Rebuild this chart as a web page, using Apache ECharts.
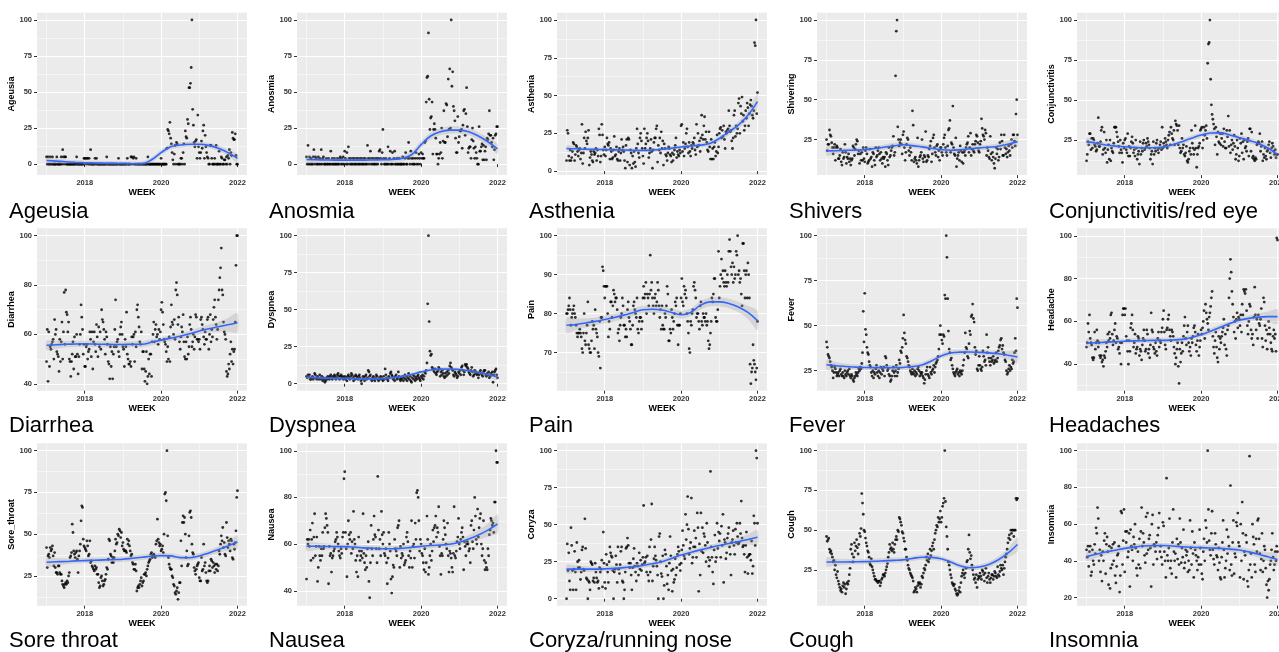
<!DOCTYPE html>
<html><head><meta charset="utf-8">
<script src="https://cdn.jsdelivr.net/npm/echarts@6/dist/echarts.min.js"></script>
<style>html,body{margin:0;padding:0;background:#fff}#c{width:1279px;height:652px}</style>
</head><body><div id="c"></div><script>
// ---------- DATA (weekly values 2017-01 .. 2022-01) ----------
const ageusia=[5,0,5,0,0,5,0,0,5,0,0,0,0,0,5,0,0,0,0,0,5,0,10,5,0,5,
5,0,0,0,0,0,0,0,0,0,0,0,0,0,0,5,0,0,0,0,0,0,0,0,0,4,
4,4,0,4,4,0,4,0,10,0,0,0,0,0,4,0,4,0,0,0,0,0,0,0,0,0,
0,0,0,0,5,0,0,0,0,0,0,0,0,0,0,0,0,0,0,0,4,0,0,0,0,0,
0,0,0,0,0,0,4,0,0,0,0,5,5,0,4,5,0,0,4,0,0,0,0,0,0,0,
0,0,0,0,0,0,0,0,5,0,0,0,0,0,0,0,0,0,0,0,0,0,0,0,0,0,
4,0,0,0,0,0,0,0,11,24,23,21,29,18,14,8,3,0,7,13,0,15,14,0,0,0,
0,4,4,0,8,14,0,23,19,18,31,28,53,53,56,67,100,38,27,15,12,16,17,4,34,12,
8,4,8,16,11,23,27,4,20,12,8,5,4,0,0,13,13,4,0,0,0,4,0,13,0,0,
0,9,0,0,5,4,0,0,3,3,0,5,0,6,4,10,0,8,6,22,18,17,17,21,6,0,0];
const anosmia=[5,0,13,0,5,0,4,0,0,5,10,0,5,4,0,0,5,0,4,0,10,0,4,5,0,0,
0,4,0,0,4,0,0,9,0,4,0,0,4,0,0,0,4,0,0,4,5,0,4,0,5,0,
9,4,0,8,0,12,4,0,4,0,0,4,0,4,0,0,4,0,4,0,0,4,0,4,0,0,
4,0,4,0,0,13,4,0,4,9,0,4,0,4,0,0,4,0,4,0,4,9,10,4,0,8,
24,4,0,0,4,0,0,12,0,4,9,0,0,8,0,4,9,0,0,4,0,0,4,0,0,0,
0,5,0,0,4,8,0,0,4,15,4,0,9,4,0,4,0,0,4,8,0,4,0,7,4,0,
8,4,7,4,4,15,16,43,60,61,91,45,24,32,33,43,7,24,28,24,18,7,7,0,4,7,
15,8,25,4,16,37,15,15,42,41,19,59,24,66,25,100,54,64,40,37,30,18,8,8,33,15,
19,23,23,24,11,27,37,38,20,35,53,26,8,11,12,12,4,17,25,16,11,4,12,8,4,0,
0,26,9,9,12,14,3,13,3,9,12,3,18,17,21,37,20,20,15,12,18,3,10,20,21,26,26];
const asthenia=[7,27,25,10,7,14,7,9,13,19,18,7,11,17,16,13,10,14,15,8,12,31,5,12,22,15,
26,20,18,22,27,4,9,13,11,7,6,13,11,12,15,7,14,10,28,24,6,10,31,24,14,11,
16,10,14,22,18,17,19,8,15,13,8,9,14,23,10,11,16,8,7,13,15,7,12,21,14,16,
13,7,2,17,21,6,22,21,4,14,12,2,10,5,13,6,3,15,28,18,12,9,22,25,20,15,
10,5,28,15,18,22,25,20,9,12,15,21,13,2,14,19,22,22,28,30,6,17,14,22,12,26,
15,20,4,18,15,11,10,7,12,16,15,11,10,6,12,7,11,14,17,22,9,13,11,10,14,12,
30,31,13,19,10,15,18,25,28,16,12,19,13,10,17,15,19,18,22,14,11,31,16,25,17,20,
13,22,37,24,21,30,36,21,26,19,14,13,26,16,8,21,8,15,8,16,19,10,13,24,12,16,
25,28,29,22,27,23,30,21,15,26,25,27,28,40,30,26,27,20,15,22,37,40,23,30,25,28,
45,48,25,43,38,49,33,37,27,30,40,35,45,42,30,38,44,47,43,37,35,40,85,83,100,38,52];
const shivering=[25,18,22,22,31,28,27,23,20,16,20,22,12,20,21,20,13,13,15,19,11,9,17,13,14,22,
17,10,14,13,16,11,13,9,12,13,21,20,15,19,22,25,24,16,18,10,16,12,17,12,20,13,
11,18,20,16,10,11,12,19,13,14,8,17,16,12,9,20,14,15,18,20,16,12,17,13,10,14,
13,14,8,17,16,12,9,20,14,15,18,20,21,27,15,17,65,93,100,33,25,21,23,25,22,16,
28,30,20,12,17,22,26,25,18,15,20,17,12,43,34,11,13,14,12,10,26,8,12,14,15,17,
25,13,11,15,14,30,11,12,15,14,19,21,24,11,16,26,28,20,17,15,21,22,14,18,12,20,
20,17,15,22,26,28,20,17,15,21,31,32,37,17,23,22,46,20,16,15,26,8,13,15,17,12,
21,18,11,17,10,17,18,15,20,22,23,27,17,20,29,15,19,22,18,17,22,24,28,27,23,18,
17,22,24,38,32,28,27,25,31,29,15,20,18,14,13,27,16,12,17,14,10,7,13,20,16,19,
12,14,23,19,28,24,15,15,28,20,16,19,14,17,21,18,15,22,25,20,28,28,24,21,41,50,28];
const conjunctivitis=[12,16,24,22,29,29,19,26,20,26,25,22,21,18,19,23,39,21,21,24,31,33,16,19,30,20,
17,25,11,19,22,13,25,12,20,18,17,23,33,33,33,30,27,24,21,17,25,19,17,11,23,20,
25,26,19,17,29,15,21,15,20,24,27,23,17,19,15,25,20,13,16,18,10,24,16,20,18,23,
25,19,20,23,21,26,24,22,20,13,16,18,10,24,16,20,18,23,25,19,17,20,22,24,19,33,
20,23,21,26,24,22,20,25,28,30,22,33,29,26,25,31,22,37,35,34,31,22,34,20,17,18,
26,20,22,16,15,17,21,12,11,13,18,20,16,31,23,20,16,19,34,20,8,16,20,21,23,31,
32,33,20,25,33,28,31,34,26,73,85,86,100,63,47,41,38,35,32,22,33,27,16,30,24,23,
29,22,26,29,21,32,24,20,20,31,27,40,21,31,17,22,25,19,23,28,21,13,16,25,20,12,
15,26,23,29,17,24,13,25,20,21,18,24,26,15,32,32,18,30,14,15,13,12,14,13,22,23,
24,23,29,18,21,24,12,16,14,20,15,13,18,19,22,24,17,14,20,23,21,18,16,19,14,16,16];
const diarrhea=[49,62,41,61,47,55,54,56,57,58,50,66,60,62,53,52,51,45,58,49,57,65,50,61,77,56,
78,69,68,61,65,50,49,43,49,52,57,46,59,51,51,60,52,44,51,56,60,72,67,62,52,56,
47,47,55,56,50,53,54,61,58,51,61,46,57,61,56,53,64,59,51,63,55,61,54,70,66,65,
62,58,52,61,59,56,49,48,42,55,47,53,42,52,55,62,74,55,57,58,53,51,60,63,65,60,
55,54,47,58,55,69,52,50,48,48,49,47,59,56,59,60,49,61,55,70,72,67,63,57,56,61,
46,53,53,46,41,45,53,40,43,50,44,52,52,43,57,60,65,57,62,64,59,60,56,62,58,61,
70,73,69,64,58,57,56,53,49,55,50,59,49,63,72,65,64,60,66,58,78,81,76,64,67,57,
54,59,63,61,68,57,51,50,57,50,59,52,55,64,67,62,55,57,60,54,59,68,67,58,58,57,
58,54,66,67,64,62,59,56,61,58,58,66,67,54,60,68,57,62,59,66,71,74,67,64,58,62,
74,78,83,87,95,78,76,65,61,60,58,45,43,44,48,46,52,57,49,54,48,53,54,65,88,100,100];
const dyspnea=[5,4,6,5,6,3,3,4,5,3,4,7,6,4,3,5,4,3,6,4,3,5,2,4,3,1,
2,4,3,5,4,3,5,6,4,3,5,4,6,5,3,4,6,7,5,3,5,6,4,5,3,4,
5,3,4,2,5,6,4,3,5,7,6,4,2,5,3,6,5,4,3,5,6,4,2,0,3,5,
4,2,5,6,3,4,9,8,5,6,3,2,4,5,3,2,4,6,5,3,2,4,3,5,4,3,
2,5,3,10,6,4,3,2,5,4,7,8,6,5,3,4,2,5,6,3,4,8,5,3,2,4,
3,5,2,4,6,3,5,2,4,7,3,5,2,1,4,6,3,5,2,4,3,5,6,4,3,2,
5,4,6,3,5,8,7,9,14,54,100,42,22,19,20,11,10,9,8,10,7,6,8,9,11,10,
5,8,6,9,7,5,4,7,5,8,6,9,7,12,14,11,10,9,6,5,8,7,6,4,5,8,
7,9,6,11,12,9,6,8,13,12,13,11,10,8,7,6,9,11,8,5,6,9,7,8,6,7,
4,6,8,9,7,6,5,8,9,9,6,5,7,6,8,4,5,7,6,8,1,6,8,9,10,6,4];
const pain=[80,80,81,82,84,81,77,79,80,81,82,80,79,77,75,74,75,75,76,75,74,71,70,75,80,73,
72,75,77,83,72,71,70,70,73,78,76,77,71,81,76,75,74,70,69,78,66,79,79,92,91,87,
84,87,87,87,80,74,78,76,83,83,79,82,86,85,83,84,84,81,75,76,73,77,79,80,84,82,
77,77,74,76,74,81,83,79,78,76,72,72,77,82,83,81,80,79,84,76,75,78,79,79,76,78,
84,87,84,85,88,80,85,84,82,85,95,86,88,84,82,80,84,85,82,83,88,86,82,79,81,76,
82,77,76,76,80,79,82,87,85,73,73,76,75,81,79,76,78,80,83,82,84,77,72,77,77,80,
84,89,83,82,87,85,86,84,80,78,75,71,70,78,77,80,81,87,88,86,84,79,80,80,78,76,
82,83,78,77,80,79,79,78,80,77,78,73,71,72,75,78,84,83,85,89,89,79,78,78,81,96,
84,87,90,94,89,91,88,87,91,88,87,90,88,96,99,96,92,90,93,88,92,89,90,96,95,100,
90,91,88,89,85,82,98,98,91,84,90,91,84,93,90,84,67,62,65,66,72,68,67,65,63,66,78];
const fever=[41,38,34,33,32,30,28,27,25,21,24,27,26,24,22,23,24,22,25,26,23,22,24,22,21,25,
23,22,24,25,23,26,22,21,23,22,20,19,21,22,24,23,22,24,26,25,27,26,29,35,58,41,
68,48,45,38,35,34,30,28,27,24,22,25,21,24,23,26,28,24,22,25,21,24,27,23,26,25,
27,22,33,32,28,25,26,23,22,19,20,22,25,27,24,22,25,28,22,24,26,31,29,36,35,38,
43,56,46,42,40,33,32,30,28,27,25,24,23,26,24,23,25,22,24,23,26,27,25,22,24,23,
24,22,21,18,20,23,25,27,23,22,21,27,24,23,25,26,28,24,27,29,30,31,33,37,45,50,
45,42,40,45,44,67,65,100,88,65,47,37,35,31,32,28,26,24,23,22,24,25,26,23,24,22,
25,24,23,25,28,31,35,46,38,37,33,32,40,47,45,55,56,62,54,52,38,34,36,26,25,28,
33,28,26,25,27,36,33,30,31,28,45,35,38,32,30,28,32,30,31,33,29,30,31,35,30,32,
36,38,39,42,43,37,39,35,34,31,30,25,23,24,26,28,25,27,26,31,29,30,35,43,36,65,60];
const headache=[48,50,59,55,63,52,50,49,43,42,43,55,47,50,56,51,48,50,44,43,44,41,42,39,44,43,
46,50,48,54,51,55,52,63,64,54,49,51,56,59,50,53,52,47,48,45,50,40,50,63,66,66,
63,66,53,51,46,40,51,46,57,59,63,56,48,50,54,45,47,48,53,52,44,47,46,42,49,52,
56,51,46,47,56,54,45,47,43,49,64,56,55,48,47,45,50,46,44,52,55,48,51,50,55,57,
61,65,55,49,47,56,57,61,63,56,53,51,56,55,53,48,45,40,43,47,50,39,31,47,41,45,
50,46,53,58,62,52,49,55,58,50,46,48,44,52,50,53,57,58,55,49,46,51,54,44,48,51,
56,54,57,60,65,52,68,64,61,59,56,62,64,67,71,74,53,48,45,51,55,48,43,41,53,47,
52,50,53,55,57,61,49,54,47,44,56,58,71,80,89,83,74,68,62,55,60,52,61,64,57,62,
61,58,63,55,68,63,75,74,73,75,65,58,54,60,68,67,56,52,54,49,62,76,63,56,61,52,
63,59,58,61,66,52,48,71,69,58,51,56,47,54,60,57,54,50,47,46,53,56,52,54,46,99,98];
const soreThroat=[42,30,37,38,36,42,40,41,43,37,31,39,30,27,27,26,31,31,27,26,26,22,20,19,18,20,
21,20,22,21,25,27,36,37,39,56,51,40,38,36,39,40,35,27,37,40,44,58,67,66,47,43,
42,41,40,46,43,37,38,46,33,34,31,30,29,28,31,29,30,26,26,21,18,19,24,25,22,19,
20,22,23,26,30,29,35,47,46,38,37,33,36,33,36,40,47,44,45,50,49,53,52,48,51,43,
45,41,40,40,40,39,47,44,46,43,40,37,38,33,32,29,29,32,28,16,18,19,18,20,22,24,
19,21,22,26,26,27,25,29,31,33,34,35,38,39,36,37,38,37,36,44,46,59,47,45,43,44,
40,41,43,39,50,74,75,70,100,49,36,32,30,29,29,25,24,20,19,15,14,16,18,11,15,21,
21,46,31,57,61,57,60,50,36,40,31,32,49,63,64,60,44,39,38,30,28,26,29,31,32,33,
24,22,22,36,28,29,44,31,33,27,22,21,22,28,31,28,35,34,30,33,31,27,32,29,32,28,
31,40,38,44,49,46,54,42,45,38,37,57,48,42,46,44,40,47,46,36,35,44,41,45,52,72,76];
const nausea=[45,62,60,62,59,66,53,62,69,54,63,73,55,59,63,44,50,59,55,53,58,55,65,58,59,67,
73,71,68,65,43,59,55,56,48,54,55,57,58,61,62,65,63,60,57,55,54,58,56,63,65,88,
91,65,58,46,60,70,64,62,65,56,61,58,74,62,60,53,48,55,46,63,57,53,55,57,54,73,
56,52,49,55,50,58,61,44,37,52,68,58,55,62,72,64,63,58,52,89,66,58,62,55,74,64,
60,65,56,55,58,52,43,54,65,60,57,45,39,46,51,50,62,58,57,55,67,68,70,50,59,54,
56,55,60,51,52,53,63,65,61,55,50,57,54,70,50,59,60,54,69,62,82,83,80,70,57,62,
60,56,55,52,49,58,48,52,72,62,47,50,55,60,53,57,66,61,67,68,72,63,67,65,76,59,
55,47,56,55,62,70,67,64,60,58,69,55,48,57,56,54,50,48,56,76,55,54,57,61,63,71,
60,58,62,65,67,63,49,61,59,55,60,61,60,57,58,52,68,70,61,58,66,80,72,62,60,75,
63,67,71,73,60,55,58,70,53,49,52,50,49,58,55,64,66,71,70,68,69,65,78,78,100,95,95];
const coryza=[0,37,19,31,12,6,48,36,19,6,20,32,18,6,38,25,21,26,21,13,18,33,35,20,19,54,
34,14,13,0,12,11,6,25,24,23,12,14,11,24,18,14,11,12,7,21,18,20,26,8,45,24,
11,7,30,23,18,11,25,35,31,29,28,19,0,18,20,29,23,11,35,20,17,23,32,35,12,11,
0,6,18,34,35,41,36,24,21,24,16,6,21,27,34,22,18,12,24,22,16,31,20,26,19,23,
28,63,24,25,28,18,29,16,12,35,18,40,64,12,22,27,35,29,26,22,16,0,42,44,25,17,
15,29,0,9,33,30,22,10,16,6,24,42,29,19,5,20,11,13,27,16,21,30,35,32,23,19,
24,33,46,36,29,27,57,40,50,69,47,30,34,38,68,24,28,35,46,35,41,28,58,48,5,37,
16,58,32,48,31,44,42,36,25,51,38,28,22,26,86,35,28,18,10,33,43,25,28,51,34,45,
39,44,28,49,36,57,11,40,38,27,31,41,44,48,35,30,16,38,40,46,36,30,47,38,51,42,
37,38,51,44,66,41,35,36,30,18,36,45,28,17,29,30,30,26,39,17,22,56,51,36,100,95,51];
const cough=[46,43,44,45,38,36,37,35,33,30,31,25,28,22,20,24,18,16,14,12,13,11,15,17,14,16,
10,13,17,16,18,22,26,38,41,35,30,33,42,37,40,44,39,35,41,48,46,51,73,67,60,50,
49,45,42,40,37,36,33,29,28,32,27,25,23,21,19,19,18,18,17,18,18,15,17,19,20,22,
22,21,23,25,27,29,33,36,41,38,39,37,42,38,36,41,44,46,44,50,49,58,57,55,53,49,
48,45,43,38,38,33,31,28,26,25,23,22,21,20,18,11,12,14,13,11,15,17,16,17,14,16,
21,20,23,26,25,28,33,31,35,30,32,38,34,37,40,42,38,44,48,50,53,52,58,55,57,62,
55,58,65,67,70,100,68,52,46,38,30,28,25,22,20,17,16,15,16,13,12,10,9,10,12,14,
11,17,21,23,25,22,20,23,26,30,31,38,47,36,32,34,28,25,22,19,20,17,22,14,19,21,
20,23,21,19,25,24,22,18,23,26,20,17,21,23,19,17,20,22,22,19,21,24,23,21,20,27,
22,21,24,28,26,25,28,22,26,30,33,35,38,42,45,47,44,50,48,50,50,46,50,50,70,69,70];
const insomnia=[46,42,48,37,45,48,32,34,46,40,38,49,44,58,55,69,63,40,46,34,43,29,45,40,51,55,
33,49,53,45,27,48,25,36,47,38,49,40,50,32,28,37,43,44,48,23,32,67,66,38,51,68,
34,56,50,56,42,45,55,26,57,48,46,40,53,49,60,47,36,32,45,38,52,36,56,69,48,55,
50,43,39,64,44,66,46,52,54,47,26,60,65,38,49,48,45,50,41,54,58,66,45,48,42,38,
61,59,45,40,31,85,43,40,47,63,36,40,33,50,68,45,40,44,31,52,41,49,38,63,50,39,
47,42,57,36,39,46,43,45,34,40,35,62,47,38,56,44,31,50,46,43,40,35,42,38,57,47,
38,33,30,45,52,40,62,58,50,100,68,51,46,43,55,67,46,41,38,55,49,43,42,35,47,39,
31,30,42,50,62,46,31,36,40,57,44,53,48,35,81,38,32,50,62,33,44,42,61,59,66,50,
48,31,60,40,72,55,30,45,43,54,50,29,26,35,97,38,44,31,60,53,49,38,34,52,45,62,
63,52,44,35,41,55,34,40,48,46,36,27,20,29,24,30,38,40,46,55,42,35,38,45,40,48,45];

// ---------- smoothed fits (loess) at quarter-year steps, with CI half-widths ----------
const fitX=[2017,2017.25,2017.5,2017.75,2018,2018.25,2018.5,2018.75,2019,2019.25,2019.5,2019.75,2020,2020.25,2020.5,2020.75,2021,2021.25,2021.5,2021.75,2022];
const ageusiaFit=[2.5,2.1,1.7,1.3,1.0,0.8,0.6,0.5,0.4,0.3,0.3,3,8,12,13.3,13.8,13.8,13,11,8,4];
const ageusiaSe=[2.5,2,1.6,1.5,1.5,1.5,1.5,1.5,1.5,1.5,1.6,1.8,1.8,1.8,1.8,1.8,1.8,1.8,1.9,2.2,3];
const anosmiaFit=[3.2,3.0,2.9,2.8,2.8,2.8,2.8,2.9,3.0,3.3,4.0,6.5,13.5,19.5,22.5,23.6,23.6,22.5,19.5,15.5,10.5];
const anosmiaSe=[2.5,2,1.8,1.8,1.8,1.8,1.8,1.8,1.8,1.8,2,2.5,2.5,2.5,2.5,2.5,2.5,2.5,2.5,2.8,3.5];
const astheniaFit=[15,14.8,14.5,14.4,14.3,14.1,14,13.8,13.7,14,14.5,15.2,16,16.6,17.2,18.3,21.6,26,30.5,37,46];
const astheniaSe=[2,1.5,1.2,1.2,1.2,1.2,1.2,1.2,1.2,1.2,1.2,1.2,1.2,1.3,1.4,1.6,2,2.2,2.4,3,5];
const shiveringFit=[17.9,18,18.2,18.4,18.7,19.4,20.2,21,21.7,21.2,20.4,19.5,18.7,18.3,18.6,19.2,19.8,20.2,20.8,22,23.7];
const shiveringSe=[3,2,1.6,1.5,1.5,1.5,1.6,1.8,1.8,1.7,1.6,1.6,1.6,1.6,1.6,1.6,1.6,1.6,1.8,2.2,3.5];
const conjunctivitisFit=[24,23,21.9,21.2,20.8,20.4,20.2,20.2,20.6,22,24,26.2,28.1,29.4,29.5,28.2,26.5,24.8,22.9,20,16];
const conjunctivitisSe=[2.5,2,1.6,1.5,1.5,1.5,1.5,1.5,1.5,1.5,1.6,1.6,1.6,1.6,1.6,1.6,1.6,1.6,1.8,2.2,3.5];
const diarrheaFit=[55.6,55.8,56,56.1,56.2,56.1,56,55.9,55.9,56,56,56.8,57.7,58.5,59.3,60.3,61.4,62.3,63.1,63.9,64.7];
const diarrheaSe=[2,1.6,1.3,1.2,1.2,1.2,1.2,1.2,1.2,1.2,1.2,1.2,1.2,1.2,1.2,1.3,1.4,1.6,2,2.8,4];
const dyspneaFit=[4.5,4.1,3.8,3.6,3.5,3.4,3.3,3.3,3.5,4.1,5,6.3,8,9.3,9.9,10,9.6,8.8,7.6,6.2,4.5];
const dyspneaSe=[1.5,1.2,1,1,1,1,1,1,1,1,1,1,1.1,1.1,1.1,1.1,1.1,1.1,1.2,1.4,2];
const painFit=[77,77.2,77.6,78,78.5,79,79.6,80.3,81,81.1,80.9,80.3,79.7,80.3,82.1,83,83,82.6,81.7,80.3,78.2];
const painSe=[2,1.5,1.2,1,1,1,1,1,1,1,1,1,1,1,1.1,1.1,1.2,1.2,1.3,1.7,2.5];
const feverFit=[28.3,27.8,27.3,27,26.8,26.7,26.7,26.7,26.8,27.3,28.2,30.4,33.2,34.8,35.3,35.4,35.2,34.9,34.4,33.6,32.6];
const feverSe=[3,2,1.6,1.5,1.5,1.5,1.5,1.5,1.5,1.5,1.5,1.5,1.5,1.5,1.5,1.5,1.5,1.5,1.6,2.2,3.5];
const headacheFit=[49.8,50,50.3,50.5,50.7,50.9,51,51.1,51.1,51.3,51.6,52.5,53.8,55.4,57.2,59,60.5,61.4,62,62.2,62.2];
const headacheSe=[2,1.6,1.3,1.2,1.2,1.2,1.2,1.2,1.2,1.2,1.2,1.2,1.2,1.3,1.3,1.3,1.3,1.4,1.6,2.4,3.5];
const soreThroatFit=[33.2,33.5,33.7,34,34.2,34.4,34.6,34.8,35,35.6,36.2,36.8,37.2,37,36,35.9,37,38.8,40.8,43,45.3];
const soreThroatSe=[3,2.2,1.8,1.6,1.6,1.6,1.6,1.6,1.6,1.6,1.6,1.6,1.6,1.6,1.6,1.6,1.7,1.8,2,2.8,4];
const nauseaFit=[59.1,59.1,59,58.9,58.9,58.7,58.4,58.2,58,58,58.2,58.6,59,59.4,59.6,59.9,60.8,62.2,63.9,66,68.6];
const nauseaSe=[2,1.6,1.3,1.2,1.2,1.2,1.2,1.2,1.2,1.2,1.2,1.2,1.2,1.2,1.2,1.3,1.4,1.6,2,2.8,4];
const coryzaFit=[20,20,20,20,20.2,20.5,21,21.7,22.5,23.6,25,27.2,29.5,31.3,33,34.5,36,37.3,38.6,40,41.5];
const coryzaSe=[3,2.4,2,1.8,1.8,1.8,1.8,1.8,1.8,1.8,1.8,1.8,1.8,1.8,1.8,1.9,2,2.2,2.6,3.4,5];
const coughFit=[30,30,30,30.1,30.2,30.4,30.7,31,31.3,32.2,33,32.9,32,30,27.6,26.4,26.8,28.4,31.4,35.5,41];
const coughSe=[3,2.2,1.8,1.6,1.6,1.6,1.6,1.6,1.6,1.6,1.6,1.6,1.6,1.6,1.6,1.6,1.6,1.7,2,2.8,4.5];
const insomniaFit=[42.3,43.6,44.8,45.8,46.8,47.5,48.1,48.3,48.4,48.1,47.7,47.4,47.2,47,46.8,46.4,45.9,44.9,43.6,42.2,40.8];
const insomniaSe=[2.5,2,1.6,1.5,1.5,1.5,1.5,1.5,1.5,1.5,1.5,1.5,1.5,1.5,1.5,1.5,1.6,1.7,1.9,2.5,3.5];

// ---------- labels & ticks ----------
const panelTitles=['Ageusia','Anosmia','Asthenia','Shivers','Conjunctivitis/red eye','Diarrhea','Dyspnea','Pain','Fever','Headaches','Sore throat','Nausea','Coryza/running nose','Cough','Insomnia'];
const yNames=['Ageusia','Anosmia','Asthenia','Shivering','Conjunctivitis','Diarrhea','Dyspnea','Pain','Fever','Headache','Sore_throat','Nausea','Coryza','Cough','Insomnia'];
const xTicks=[2018,2020,2022];
const xMinor=[2017,2019,2021];
const t0=[0,25,50,75,100], t25=[25,50,75,100], t40=[40,60,80,100], t70=[70,80,90,100], t20=[20,40,60,80,100];
const m25=[12.5,37.5,62.5,87.5], m20=[30,50,70,90], m10=[65,75,85,95];
const yTicks=[t0,t0,t0,t25,t25,t40,t0,t70,t25,t40,t25,t40,t0,t25,t20];
const yMinor=[m25,m25,m25,m25,m25,m20,m25,m10,m25,m20,m25,m20,m25,m25,m20];
const yMin=[-7.6,-7.6,-2.6,2.7,3.1,37.2,-4.7,60.2,13.9,27.6,7.2,33.6,-4.7,2.5,15.6];
const yMax=[105,105,104.8,104.6,104.6,103,105,101.9,104.1,103.5,104.4,103.2,105,104.6,104];

const values=[ageusia,anosmia,asthenia,shivering,conjunctivitis,diarrhea,dyspnea,pain,fever,headache,soreThroat,nausea,coryza,cough,insomnia];
const fits=[ageusiaFit,anosmiaFit,astheniaFit,shiveringFit,conjunctivitisFit,diarrheaFit,dyspneaFit,painFit,feverFit,headacheFit,soreThroatFit,nauseaFit,coryzaFit,coughFit,insomniaFit];
const ses=[ageusiaSe,anosmiaSe,astheniaSe,shiveringSe,conjunctivitisSe,diarrheaSe,dyspneaSe,painSe,feverSe,headacheSe,soreThroatSe,nauseaSe,coryzaSe,coughSe,insomniaSe];

// ---------- build ----------
const FONT='"Liberation Sans", Arial, Helvetica, sans-serif';
const rowTops=[12.7,228.3,443.3];
const grids=[],xAxes=[],yAxes=[],series=[],titles=[];
values.forEach((vals,k)=>{
  const r=Math.floor(k/5), c=k%5;
  const left=37+c*260, top=rowTops[r];
  grids.push({left:left,top:top,width:210,height:162.4,show:true,backgroundColor:'#EBEBEB',borderWidth:0,containLabel:false,outerBoundsMode:'none'});
  const xb={gridIndex:k,type:'value',min:2016.75,max:2022.25,axisLine:{show:false}};
  xAxes.push(Object.assign({},xb,{position:'bottom',name:'WEEK',nameLocation:'middle',nameGap:11,
    nameTextStyle:{fontFamily:FONT,fontSize:9,fontWeight:'bold',color:'#000'},
    axisTick:{show:true,length:3,customValues:xTicks,lineStyle:{color:'#333',width:1}},
    axisLabel:{show:true,customValues:xTicks,formatter:v=>String(v),margin:4,fontFamily:FONT,fontSize:7.5,fontWeight:'bold',color:'#333',hideOverlap:false},
    splitLine:{show:true,lineStyle:{color:'#ffffff',width:1}},z:1}));
  xAxes.push(Object.assign({},xb,{position:'bottom',axisTick:{show:false,customValues:xMinor},axisLabel:{show:false,customValues:xMinor},
    splitLine:{show:true,lineStyle:{color:'#ffffff',width:0.5}},z:0}));
  const yb={gridIndex:k,type:'value',min:yMin[k],max:yMax[k],axisLine:{show:false}};
  yAxes.push(Object.assign({},yb,{position:'left',name:yNames[k],nameLocation:'middle',nameRotate:90,nameGap:18,
    nameTextStyle:{fontFamily:FONT,fontSize:9,fontWeight:'bold',color:'#000'},
    axisTick:{show:true,length:3,customValues:yTicks[k],lineStyle:{color:'#333',width:1}},
    axisLabel:{show:true,customValues:yTicks[k],formatter:v=>String(v),margin:5,fontFamily:FONT,fontSize:7.5,fontWeight:'bold',color:'#333'},
    splitLine:{show:true,lineStyle:{color:'#ffffff',width:1}},z:1}));
  yAxes.push(Object.assign({},yb,{position:'left',axisTick:{show:false,customValues:yMinor[k]},axisLabel:{show:false,customValues:yMinor[k]},
    splitLine:{show:true,lineStyle:{color:'#ffffff',width:0.5}},z:0}));
  const n=vals.length;
  series.push({type:'scatter',xAxisIndex:2*k,yAxisIndex:2*k,symbol:'circle',symbolSize:2.8,silent:true,
    itemStyle:{color:'#000'},data:vals.map((v,i)=>[2017+i*5/(n-1),v]),z:2});
  const fit=fits[k], se=ses[k];
  // confidence ribbon: polygon through library coordinates
  series.push({type:'custom',xAxisIndex:2*k,yAxisIndex:2*k,silent:true,z:3,clip:true,
    data:fitX.map((x,i)=>[x,fit[i]-se[i],fit[i]+se[i]]),
    encode:{x:0,y:[1,2]},
    renderItem:(params,api)=>{
      if(params.dataIndex!==0) return null;
      const up=[],lo=[];
      for(let i=0;i<fitX.length;i++){
        up.push(api.coord([fitX[i],fit[i]+se[i]]));
        lo.push(api.coord([fitX[i],fit[i]-se[i]]));
      }
      return {type:'polygon',shape:{points:up.concat(lo.reverse()),smooth:0.25},
        style:{fill:'rgba(160,160,160,0.3)',stroke:null}};
    }});
  series.push({type:'line',xAxisIndex:2*k,yAxisIndex:2*k,symbol:'none',smooth:0.4,silent:true,
    lineStyle:{color:'#3366FF',width:1.6},data:fitX.map((x,i)=>[x,fit[i]]),z:4});
  titles.push({text:panelTitles[k],left:left-28,top:[201,415,630][r],padding:0,
    textStyle:{fontFamily:FONT,fontSize:22,fontWeight:'normal',color:'#000'}});
});
const chart=echarts.init(document.getElementById('c'),null,{renderer:'canvas'});
chart.setOption({animation:false,backgroundColor:'#ffffff',title:titles,grid:grids,xAxis:xAxes,yAxis:yAxes,series:series});
</script></body></html>
